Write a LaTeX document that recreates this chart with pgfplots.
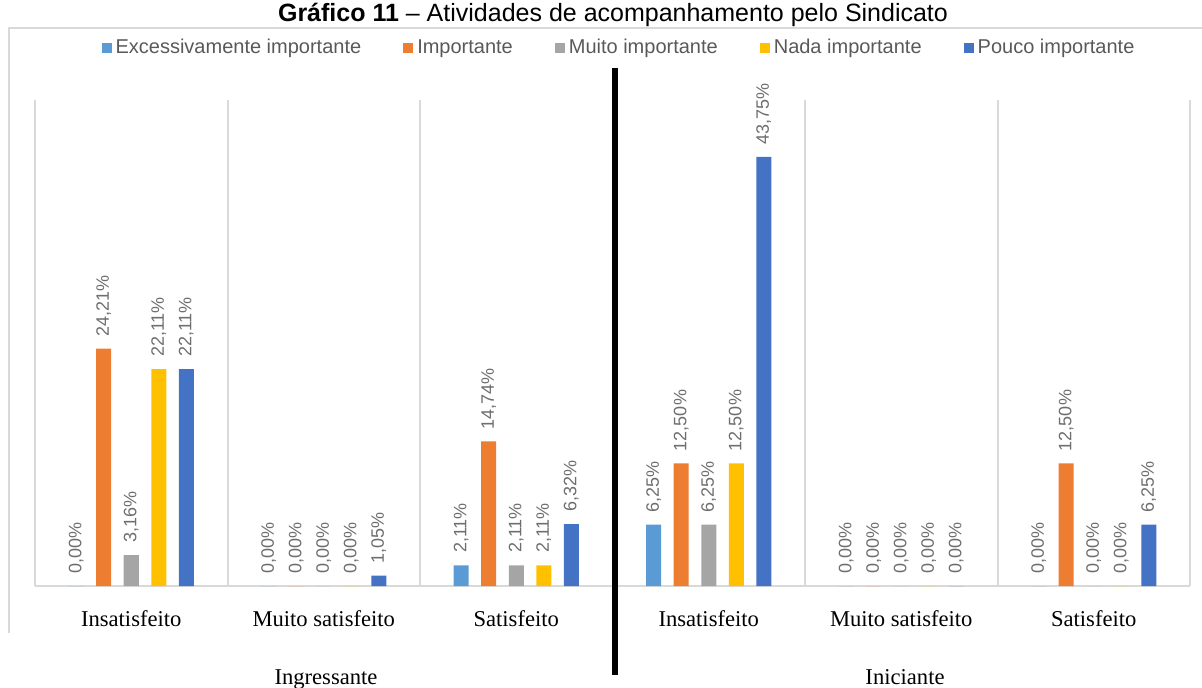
\documentclass[border=0pt]{standalone}
\usepackage{fontspec}
\setmainfont{Liberation Serif}
\setsansfont{Liberation Sans}
\usepackage{pgfplots}
\pgfplotsset{compat=1.18}

\definecolor{cExc}{HTML}{5B9BD5}
\definecolor{cImp}{HTML}{ED7D31}
\definecolor{cMui}{HTML}{A5A5A5}
\definecolor{cNad}{HTML}{FFC000}
\definecolor{cPou}{HTML}{4472C4}
\definecolor{sepgray}{HTML}{D9D9D9}
\definecolor{labgray}{HTML}{6E6E6E}
\definecolor{leggray}{HTML}{595959}

\begin{document}
\begin{tikzpicture}
\begin{axis}[
    at={(0,0)}, anchor=south west,
    scale only axis,
    width=577.5pt, height=243pt,
    xmin=-0.5, xmax=5.5,
    ymin=0, ymax=49.56,
    axis y line=none,
    axis x line*=bottom,
    x axis line style={draw=sepgray, line width=1pt},
    xtick={0,...,5},
    xticklabels={Insatisfeito, Muito satisfeito, Satisfeito, Insatisfeito, Muito satisfeito, Satisfeito},
    major tick length=0pt,
    xticklabel style={font=\rmfamily\fontsize{11.3}{13}\selectfont, text=black, yshift=-9pt},
    ytick=\empty,
    ybar, bar width=0.078,
    clip=false,
    nodes near coords={\pgfmathprintnumber[fixed,fixed zerofill,precision=2,use comma,assume math mode=true]{\pgfplotspointmeta}\%},
    every node near coord/.append style={rotate=90, anchor=west, inner xsep=6pt,
        font=\sffamily\fontsize{9}{10}\selectfont, text=labgray},
    legend columns=5,
    legend style={at={(0.5065,1.107)}, anchor=center, draw=none, fill=none,
        font=\sffamily\fontsize{10}{12}\selectfont, text=leggray,
        /tikz/every even column/.append style={column sep=19pt}},
    legend image code/.code={\fill[#1] (0pt,-2.5pt) rectangle (5pt,2.5pt);},
]
% Excessivamente importante
\addplot[draw=none, fill=cExc, bar shift=-0.286] coordinates {(0,0) (1,0) (2,2.11) (3,6.25) (4,0) (5,0)};
% Importante
\addplot[draw=none, fill=cImp, bar shift=-0.143] coordinates {(0,24.21) (1,0) (2,14.74) (3,12.50) (4,0) (5,12.50)};
% Muito importante
\addplot[draw=none, fill=cMui, bar shift=0] coordinates {(0,3.16) (1,0) (2,2.11) (3,6.25) (4,0) (5,0)};
% Nada importante
\addplot[draw=none, fill=cNad, bar shift=0.143] coordinates {(0,22.11) (1,0) (2,2.11) (3,12.50) (4,0) (5,0)};
% Pouco importante
\addplot[draw=none, fill=cPou, bar shift=0.286] coordinates {(0,22.11) (1,1.05) (2,6.32) (3,43.75) (4,0) (5,6.25)};
\legend{Excessivamente importante, Importante, Muito importante, Nada importante, Pouco importante}
% group separators
\foreach \s in {-0.5,0.5,1.5,3.5,4.5,5.5}{
  \edef\tmp{\noexpand\draw[sepgray, line width=1pt] (axis cs:\s,0) -- (axis cs:\s,49.56);}\tmp
}
\end{axis}
% decorations in image pixel coordinates
\begin{scope}[x=0.5pt, y=-0.5pt, shift={(-17.5pt,293pt)}]
  \useasboundingbox (0,0) rectangle (1202,687);
  \draw[sepgray, line width=1pt] (9,633) -- (9,28) -- (1202,28);
  \draw[black, line width=3pt] (615,68) -- (615,675);
  \node[anchor=base, font=\sffamily\fontsize{12.5}{14}\selectfont] at (613,22)
    {\textbf{Gráfico 11} – Atividades de acompanhamento pelo Sindicato};
  \node[anchor=base, font=\rmfamily\fontsize{11.3}{13}\selectfont] at (326,684) {Ingressante};
  \node[anchor=base, font=\rmfamily\fontsize{11.3}{13}\selectfont] at (905,684) {Iniciante};
\end{scope}
\end{tikzpicture}
\end{document}
